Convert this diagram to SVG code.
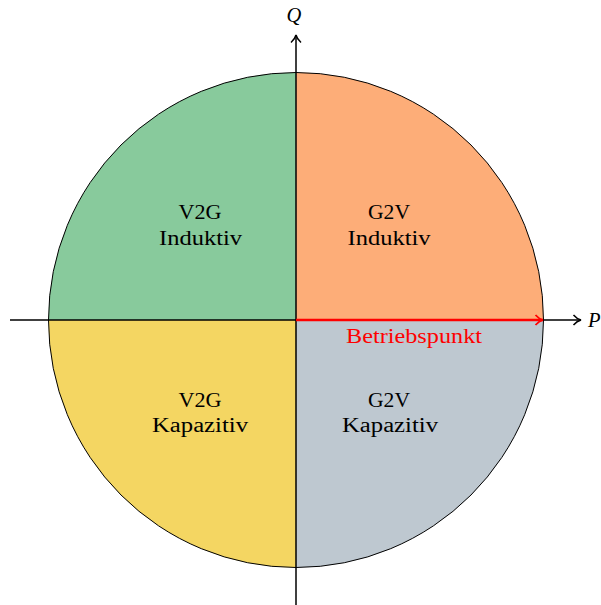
<svg xmlns="http://www.w3.org/2000/svg" width="601" height="605" viewBox="0 0 601 605">
<style>
.t{font-family:"Liberation Serif","DejaVu Serif",serif;font-size:20.5px;fill:#000;text-anchor:middle}
.ax{stroke:#000;stroke-width:1.5;fill:none}
</style>
<defs>
<marker id="ah" viewBox="0 0 10 12" refX="9" refY="6" markerWidth="10" markerHeight="12" markerUnits="userSpaceOnUse" orient="auto">
<path d="M1.5,1 Q5,5 9,6 Q5,7 1.5,11" fill="none" stroke="#000" stroke-width="1.5"/>
</marker>
<marker id="ahr" viewBox="0 0 10 12" refX="9" refY="6" markerWidth="10" markerHeight="12" markerUnits="userSpaceOnUse" orient="auto">
<path d="M1.5,1 Q5,5 9,6 Q5,7 1.5,11" fill="none" stroke="#f00" stroke-width="1.8"/>
</marker>
</defs>
<g id="q1"><path d="M296,320 L296,72.5 A247.5,247.5 0 0 1 543.5,320 Z" fill="#FDAD78"/></g>
<g id="q2"><path d="M296,320 L48.5,320 A247.5,247.5 0 0 1 296,72.5 Z" fill="#88CA9C"/></g>
<g id="q3"><path d="M296,320 L296,567.5 A247.5,247.5 0 0 1 48.5,320 Z" fill="#F4D662"/></g>
<g id="q4"><path d="M296,320 L543.5,320 A247.5,247.5 0 0 1 296,567.5 Z" fill="#BEC8D0"/></g>
<g id="circle"><circle cx="296" cy="320" r="247.5" fill="none" stroke="#000" stroke-width="1"/></g>
<g id="connectors">
<line class="ax" x1="10" y1="320" x2="581" y2="320" marker-end="url(#ah)"/>
<line class="ax" x1="296" y1="605" x2="296" y2="35" marker-end="url(#ah)"/>
<line x1="296" y1="320" x2="543" y2="320" stroke="#f00" stroke-width="2.4" marker-end="url(#ahr)"/>
</g>
<g id="labels">
<text class="t" x="294" y="22" font-style="italic">Q</text>
<text class="t" x="588" y="327" font-style="italic" style="text-anchor:start">P</text>
<text class="t" x="200" y="219" textLength="43" lengthAdjust="spacingAndGlyphs">V2G</text>
<text class="t" x="200.5" y="245" textLength="83" lengthAdjust="spacingAndGlyphs">Induktiv</text>
<text class="t" x="389" y="219" textLength="42" lengthAdjust="spacingAndGlyphs">G2V</text>
<text class="t" x="389" y="245" textLength="83" lengthAdjust="spacingAndGlyphs">Induktiv</text>
<text class="t" x="200" y="407" textLength="43" lengthAdjust="spacingAndGlyphs">V2G</text>
<text class="t" x="200" y="432" textLength="96" lengthAdjust="spacingAndGlyphs">Kapazitiv</text>
<text class="t" x="389" y="407" textLength="42" lengthAdjust="spacingAndGlyphs">G2V</text>
<text class="t" x="390" y="432" textLength="96" lengthAdjust="spacingAndGlyphs">Kapazitiv</text>
<text class="t" x="414" y="343" style="fill:#f00" textLength="136" lengthAdjust="spacingAndGlyphs">Betriebspunkt</text>
</g>
</svg>
